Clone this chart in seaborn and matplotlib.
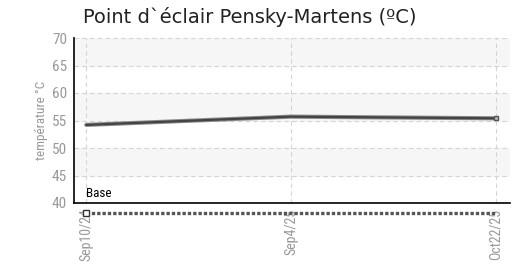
import matplotlib
matplotlib.use("Agg")
import matplotlib.pyplot as plt
import numpy as np
import pandas as pd
import seaborn as sns

dates = ["Sep10/24", "Sep4/25", "Oct22/25"]
flash_point = [54.2, 55.7, 55.4]
base_level = [38.2, 38.2, 38.2]
y_ticks = [40, 45, 50, 55, 60, 65, 70]

df = pd.DataFrame({"pos": np.arange(len(dates)), "date": dates,
                   "flash": flash_point, "base": base_level})

sns.set_style("white")
plt.rcParams["font.family"] = ["DejaVu Sans"]
narrow = ["Roboto Condensed", "Liberation Sans Narrow", "Roboto", "DejaVu Sans"]

fig = plt.figure(figsize=(5.16, 2.65), dpi=100)
ax = fig.add_axes([74 / 516, 62 / 265, 436 / 516, 165 / 265])

# alternating bands
for lo in range(45, 70, 10):
    ax.axhspan(lo, lo + 5, color="#f6f6f6", zorder=0)

ax.set_xlim(-0.06, 2.07)
ax.set_ylim(40, 70)
ax.set_yticks(y_ticks)
ax.set_xticks(df["pos"])
ax.set_xticklabels(dates, rotation=90, color="#999999", fontsize=10, family=narrow)
ax.set_yticklabels([str(v) for v in y_ticks], color="#999999", fontsize=11, family=narrow)
ax.grid(True, color="#d4d4d4", linestyle=(0, (4, 3)), linewidth=0.8)
ax.set_axisbelow(True)

for s in ["top", "right"]:
    ax.spines[s].set_visible(False)
for s in ["left", "bottom"]:
    ax.spines[s].set_color("black")
    ax.spines[s].set_linewidth(1.2)
ax.tick_params(direction="inout", length=6, width=1, color="#333333", pad=2)
ax.tick_params(axis="x", pad=1)

# flash point series
sns.lineplot(data=df, x="pos", y="flash", ax=ax, color="#8a8a8a", linewidth=3.0, zorder=3)
sns.lineplot(data=df, x="pos", y="flash", ax=ax, color="#444444", linewidth=1.6, zorder=4)
ax.plot(df["pos"].iloc[-1], df["flash"].iloc[-1], marker="s", markersize=3,
        markerfacecolor="#bbbbbb", markeredgecolor="#555555", zorder=5)

# base series below the axis
ax.plot(df["pos"], df["base"], color="#555555", linewidth=2.4, linestyle=(0, (1, 0.6)),
        clip_on=False, zorder=5)
ax.plot(df["pos"].iloc[0], df["base"].iloc[0], marker="s", markersize=5,
        markerfacecolor="white", markeredgecolor="#333333", clip_on=False, zorder=6)
ax.text(df["pos"].iloc[0], 40.6, "Base", fontsize=9.5, family=narrow, color="black",
        ha="left", va="bottom")

ax.set_xlabel("")
ax.set_ylabel("température °C", fontsize=9.5, color="#999999", family=narrow, labelpad=3)
fig.text(0.484, 0.975, "Point d`éclair Pensky-Martens (ºC)", fontsize=14,
         ha="center", va="top", color="#222222")

fig.savefig("out.png", dpi=100)
